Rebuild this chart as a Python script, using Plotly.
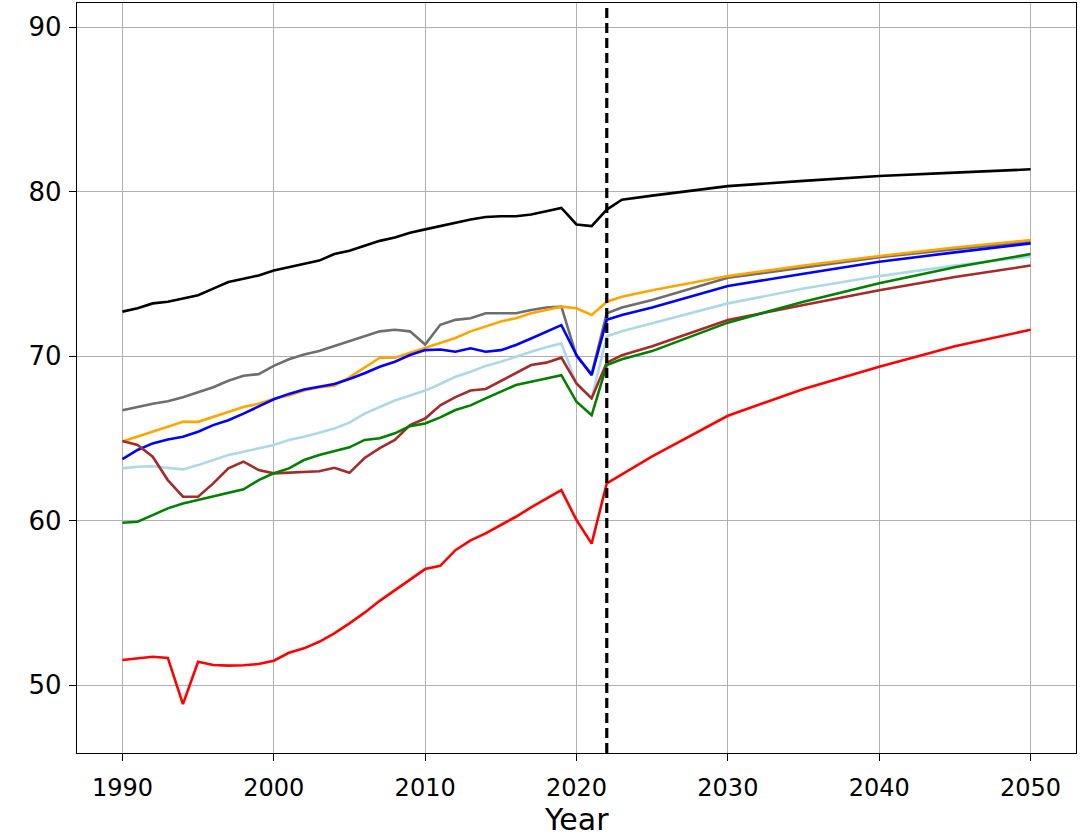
import plotly.graph_objects as go

years_hist = list(range(1990, 2023))
years_proj = [2023, 2025, 2030, 2035, 2040, 2045, 2050]

black_hist = [72.7, 72.9, 73.2, 73.3, 73.5, 73.7, 74.1, 74.5, 74.7, 74.9,
              75.2, 75.4, 75.6, 75.8, 76.2, 76.4, 76.7, 77.0, 77.2, 77.5,
              77.7, 77.9, 78.1, 78.3, 78.45, 78.5, 78.5, 78.6, 78.8, 79.0,
              78.0, 77.9, 78.9]
black_proj = [79.5, 79.75, 80.33, 80.65, 80.94, 81.15, 81.35]

gray_hist = [66.7, 66.9, 67.1, 67.25, 67.5, 67.8, 68.1, 68.5, 68.8, 68.9,
             69.4, 69.8, 70.1, 70.3, 70.6, 70.9, 71.2, 71.5, 71.6, 71.5,
             70.7, 71.9, 72.2, 72.3, 72.6, 72.6, 72.6, 72.8, 72.95, 73.0,
             70.0, 68.9, 72.6]
gray_proj = [72.95, 73.4, 74.76, 75.4, 76.0, 76.5, 76.95]

orange_hist = [64.8, 65.1, 65.4, 65.7, 66.0, 66.0, 66.3, 66.6, 66.9, 67.1,
               67.4, 67.6, 67.9, 68.1, 68.2, 68.7, 69.3, 69.9, 69.9, 70.2,
               70.5, 70.8, 71.1, 71.5, 71.8, 72.1, 72.3, 72.6, 72.8, 73.0,
               72.9, 72.5, 73.3]
orange_proj = [73.6, 74.0, 74.86, 75.5, 76.08, 76.6, 77.05]

blue_hist = [63.74, 64.29, 64.69, 64.93, 65.09, 65.4, 65.8, 66.1, 66.5, 66.92,
             67.37, 67.7, 67.97, 68.13, 68.3, 68.6, 68.95, 69.35, 69.65, 70.06,
             70.36, 70.4, 70.26, 70.47, 70.26, 70.36, 70.67, 71.07, 71.48, 71.88,
             70.06, 68.84, 72.2]
blue_proj = [72.5, 72.95, 74.26, 75.0, 75.73, 76.3, 76.85]

lightblue_hist = [63.17, 63.27, 63.3, 63.2, 63.11, 63.37, 63.68, 63.98, 64.18, 64.39,
                  64.59, 64.89, 65.09, 65.34, 65.6, 65.95, 66.5, 66.9, 67.3, 67.6,
                  67.9, 68.3, 68.74, 69.05, 69.4, 69.65, 69.96, 70.26, 70.53, 70.77,
                  68.3, 67.4, 71.2]
lightblue_proj = [71.5, 72.0, 73.2, 74.1, 74.86, 75.5, 76.05]

brown_hist = [64.83, 64.59, 63.88, 62.46, 61.45, 61.45, 62.26, 63.17, 63.58, 63.07,
              62.87, 62.9, 62.97, 63.0, 63.21, 62.9, 63.8, 64.4, 64.9, 65.8,
              66.2, 67.0, 67.5, 67.9, 68.0, 68.5, 68.95, 69.45, 69.6, 69.9,
              68.34, 67.43, 69.6]
brown_proj = [70.05, 70.6, 72.19, 73.1, 74.0, 74.8, 75.5]

green_hist = [59.87, 59.93, 60.33, 60.74, 61.04, 61.25, 61.45, 61.65, 61.9, 62.46,
              62.87, 63.17, 63.68, 63.98, 64.22, 64.45, 64.9, 65.0, 65.3, 65.74,
              65.9, 66.27, 66.72, 67.0, 67.43, 67.83, 68.24, 68.44, 68.64, 68.84,
              67.22, 66.4, 69.45]
green_proj = [69.8, 70.3, 72.03, 73.3, 74.42, 75.4, 76.2]

red_hist = [51.52, 51.62, 51.72, 51.65, 48.84, 51.42, 51.22, 51.18, 51.2, 51.28,
            51.48, 51.96, 52.23, 52.63, 53.14, 53.75, 54.4, 55.12, 55.78, 56.4,
            57.05, 57.25, 58.2, 58.8, 59.22, 59.73, 60.23, 60.8, 61.35, 61.85,
            60.03, 58.6, 62.26]
red_proj = [62.8, 63.9, 66.37, 68.0, 69.35, 70.6, 71.6]

split_year = 2022
x_ticks = [1990, 2000, 2010, 2020, 2030, 2040, 2050]
y_ticks = [50, 60, 70, 80, 90]
x_title = "Year"

series = [
    ("gray", "#6e6e6e", gray_hist, gray_proj),
    ("lightblue", "#add8e6", lightblue_hist, lightblue_proj),
    ("orange", "#ffa500", orange_hist, orange_proj),
    ("blue", "#0000ff", blue_hist, blue_proj),
    ("brown", "#a52a2a", brown_hist, brown_proj),
    ("green", "#008000", green_hist, green_proj),
    ("red", "#ff0000", red_hist, red_proj),
    ("black", "#000000", black_hist, black_proj),
]

fig = go.Figure()
xs = years_hist + years_proj
for name, color, h, p in series:
    fig.add_trace(go.Scatter(x=xs, y=h + p, mode="lines", name=name,
                             line=dict(color=color, width=2.6),
                             showlegend=False))

fig.add_shape(type="line", xref="x", yref="paper", x0=split_year, x1=split_year,
              y0=0, y1=1, line=dict(color="black", width=3.2, dash="10px,5px"))

axis_common = dict(showline=True, linecolor="black", linewidth=1.3, mirror=True,
                   showgrid=True, gridcolor="#b0b0b0", gridwidth=1,
                   ticks="outside", ticklen=7, tickwidth=1.2, tickcolor="black",
                   zeroline=False)

fig.update_xaxes(range=[1987, 2053], tickvals=x_ticks, ticklabelstandoff=6,
                 tickfont=dict(family="DejaVu Sans", size=24, color="black"),
                 **axis_common)
fig.update_yaxes(range=[45.87, 91.46], tickvals=y_ticks, ticklabelstandoff=2,
                 tickfont=dict(family="DejaVu Sans", size=26, color="black"),
                 **axis_common)

fig.add_annotation(text=x_title, xref="paper", yref="paper", x=0.5, y=-0.1147,
                   xanchor="center", yanchor="bottom", showarrow=False,
                   font=dict(family="DejaVu Sans", size=30, color="black"))

fig.update_layout(width=1089, height=840,
                  margin=dict(l=77, r=13, t=3, b=87),
                  paper_bgcolor="white", plot_bgcolor="white")

fig.write_html("out.html")
